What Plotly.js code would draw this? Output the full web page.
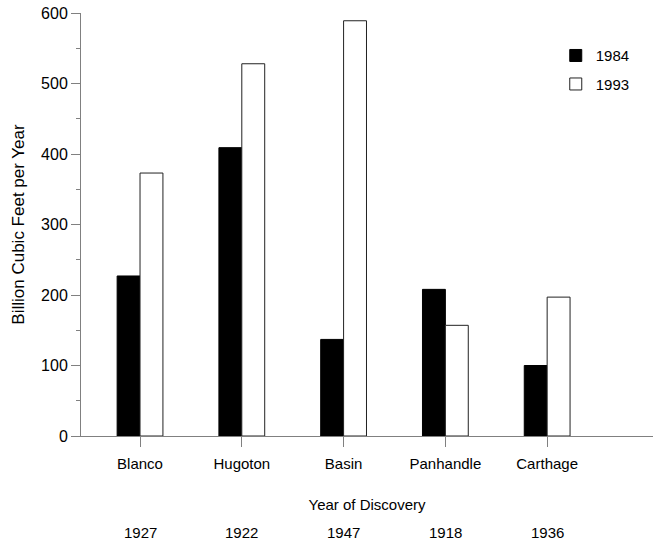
<!DOCTYPE html>
<html>
<head>
<meta charset="utf-8">
<script src="https://cdn.plot.ly/plotly-3.0.1.min.js"></script>
<style>html,body{margin:0;padding:0;background:#fff;}#chart{width:653px;height:546px;}</style>
</head>
<body>
<div id="chart"></div>
<script>
const fields = ["Blanco", "Hugoton", "Basin", "Panhandle", "Carthage"];
const discoveryYears = ["1927", "1922", "1947", "1918", "1936"];
const values1984 = [227, 409, 137, 208, 100];
const values1993 = [373, 528, 589, 157, 197];
const seriesNames = ["1984", "1993"];

const FONT = "Liberation Sans, Arial, sans-serif";

const traces = [
  {type: "bar", name: seriesNames[0], x: fields, y: values1984,
   marker: {color: "#000000", line: {color: "#000000", width: 1}}, legendgroup: "a"},
  {type: "bar", name: seriesNames[1], x: fields, y: values1993,
   marker: {color: "#ffffff", line: {color: "#222222", width: 1}}, legendgroup: "b"}
];

const annotations = fields.map((f, i) => ({
  x: f, xref: "x", y: -0.229, yref: "paper", yanchor: "middle",
  text: discoveryYears[i], showarrow: false,
  font: {family: FONT, size: 15, color: "#000"}
}));

const layout = {
  width: 653, height: 546,
  margin: {l: 81, r: 0, t: 13, b: 110},
  paper_bgcolor: "#fff", plot_bgcolor: "#fff",
  font: {family: FONT, size: 15, color: "#000"},
  barmode: "group", bargap: 0.55, bargroupgap: 0,
  showlegend: true,
  legend: {x: 0.83, y: 0.938, xanchor: "left", yanchor: "top",
           traceorder: "grouped", tracegroupgap: 6, bgcolor: "rgba(0,0,0,0)",
           font: {size: 15}},
  xaxis: {
    type: "category", range: [-0.58, 5.04],
    showline: true, linecolor: "#808080", linewidth: 1,
    ticks: "outside", ticklen: 10, tickcolor: "#808080", tickwidth: 1,
    ticklabelstandoff: 4,
    showgrid: false, zeroline: false,
    title: {text: "Year of Discovery", standoff: 28, font: {size: 15}}
  },
  yaxis: {
    range: [0, 600], dtick: 100,
    showline: true, linecolor: "#808080", linewidth: 1,
    ticks: "outside", ticklen: 9, tickcolor: "#808080", tickwidth: 1,
    tickfont: {size: 16},
    minor: {dtick: 50, ticks: "outside", ticklen: 4, tickcolor: "#808080"},
    showgrid: false, zeroline: false,
    title: {text: "Billion Cubic Feet per Year", standoff: 12, font: {size: 17}}
  },
  annotations: annotations
};

Plotly.newPlot("chart", traces, layout, {staticPlot: true});
</script>
</body>
</html>
